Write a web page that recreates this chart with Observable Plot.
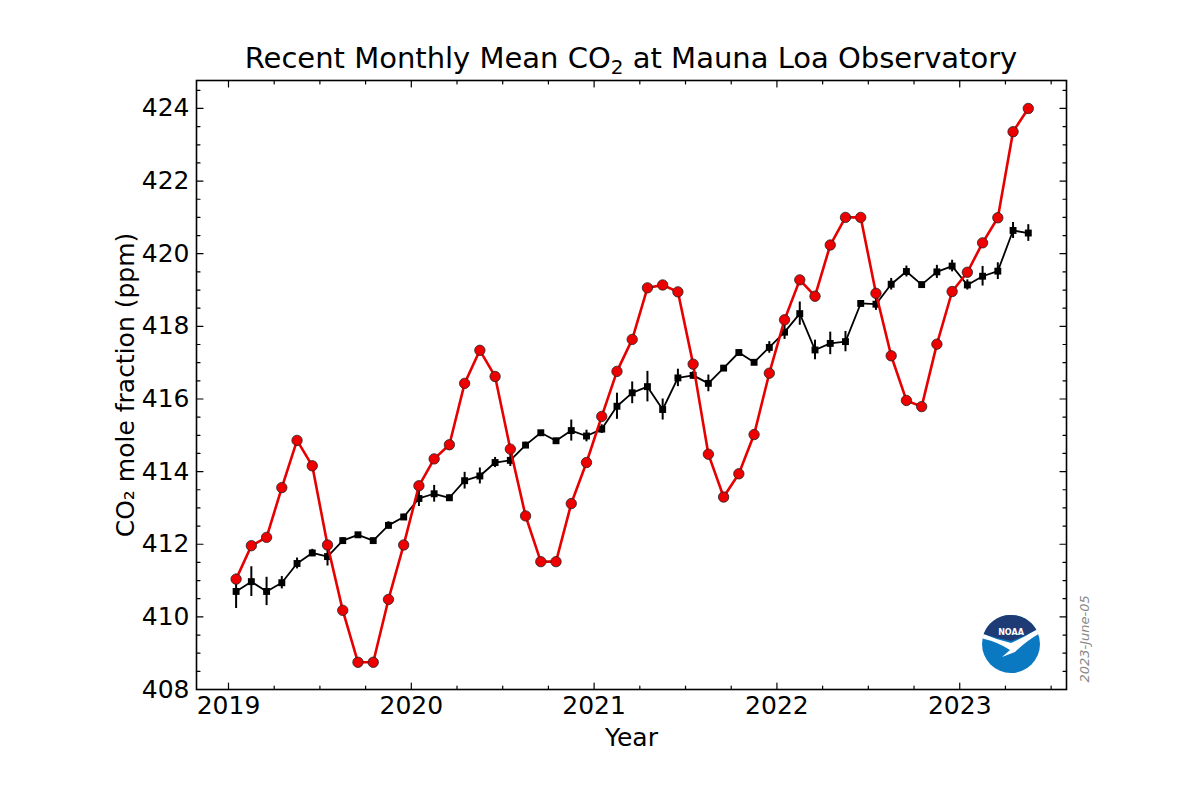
<!DOCTYPE html>
<html>
<head>
<meta charset="utf-8">
<script src="https://cdn.jsdelivr.net/npm/d3@7"></script>
<script src="https://cdn.jsdelivr.net/npm/@observablehq/plot@0.6"></script>
<style>
  html, body { margin: 0; padding: 0; background: #fff; }
  #wrap { width: 1197px; height: 800px; position: relative; font-family: "DejaVu Sans", sans-serif; }
  #title { height: 78px; box-sizing: border-box; padding-top: 44px; line-height: 29px; font-size: 29px;
           margin-left: 196px; width: 870px; text-align: center; color: #000; white-space: nowrap; }
  #title sub { font-size: 20px; line-height: 0; vertical-align: -6px; }
  svg { display: block; }
</style>
</head>
<body>
<div id="wrap">
  <div id="title">Recent Monthly Mean CO<sub>2</sub> at Mauna Loa Observatory</div>
  <div id="chart"></div>
</div>
<script>
// Monthly values, January 2019 through May 2023
const startYear = 2019;
const monthlyMean = [
  411.04, 411.96, 412.19, 413.56, 414.86, 414.16, 411.98, 410.18, 408.75, 408.75, 410.48, 411.98,
  413.61, 414.35, 414.74, 416.43, 417.34, 416.62, 414.62, 412.78, 411.52, 411.52, 413.12, 414.25,
  415.52, 416.76, 417.64, 419.06, 419.14, 418.95, 416.96, 414.48, 413.30, 413.94, 415.02, 416.71,
  418.18, 419.28, 418.83, 420.24, 421.00, 421.00, 418.91, 417.19, 415.96, 415.79, 417.51, 418.96,
  419.49, 420.30, 420.99, 423.36, 424.00
];
const deseasonalized = [
  410.70, 410.97, 410.70, 410.94, 411.47, 411.76, 411.66, 412.10, 412.26, 412.10, 412.52, 412.75,
  413.26, 413.39, 413.28, 413.75, 413.88, 414.25, 414.31, 414.73, 415.07, 414.85, 415.13, 414.98,
  415.17, 415.80, 416.17, 416.34, 415.71, 416.58, 416.65, 416.43, 416.85, 417.28, 417.01, 417.42,
  417.84, 418.35, 417.35, 417.53, 417.58, 418.63, 418.61, 419.16, 419.51, 419.15, 419.50, 419.66,
  419.14, 419.38, 419.52, 420.64, 420.57
];
const uncertainty = [
  0.47, 0.41, 0.39, 0.17, 0.15, 0.10, 0.26, 0.08, 0.05, 0.05, 0.10, 0.08,
  0.22, 0.23, 0.08, 0.23, 0.22, 0.14, 0.17, 0.08, 0.06, 0.06, 0.29, 0.16,
  0.12, 0.36, 0.30, 0.42, 0.29, 0.24, 0.10, 0.23, 0.06, 0.06, 0.06, 0.16,
  0.20, 0.32, 0.27, 0.31, 0.28, 0.06, 0.17, 0.16, 0.15, 0.06, 0.18, 0.16,
  0.14, 0.27, 0.23, 0.22, 0.23
];
const xTickLabels = [2019, 2020, 2021, 2022, 2023];
const xMinorTicks = [2019.25, 2019.5, 2019.75, 2020.25, 2020.5, 2020.75, 2021.25, 2021.5, 2021.75,
                     2022.25, 2022.5, 2022.75, 2023.25, 2023.5];
const yTickLabels = [408, 410, 412, 414, 416, 418, 420, 422, 424];
const yMinorTicks = [408.5, 409, 409.5, 410.5, 411, 411.5, 412.5, 413, 413.5, 414.5, 415, 415.5,
                     416.5, 417, 417.5, 418.5, 419, 419.5, 420.5, 421, 421.5, 422.5, 423, 423.5, 424.5];
const dateStamp = "2023-June-05";

const data = monthlyMean.map((v, i) => ({
  t: startYear + (i + 0.5) / 12,
  mean: v,
  trend: deseasonalized[i],
  err: uncertainty[i]
}));

const tickShape = {draw(ctx, l) { ctx.moveTo(0, 0); ctx.lineTo(0, -l); }};
const tk = (vals, ch, anchor, rotate, len) =>
  Plot.vector(vals, {[ch]: d => d, frameAnchor: anchor, rotate, length: len, anchor: "start",
                     shape: tickShape, stroke: "black", strokeWidth: 1.2});

const W = 1197, H = 722, mL = 196, mR = 131, mT = 2, mB = 111;

function noaaLogo() {
  const cx = W - mR - 55, cy = H - mB - 45;
  const g = d3.create("svg:g").attr("transform", `translate(${cx},${cy})`);
  g.append("circle").attr("r", 29).attr("fill", "#0a79c2");
  g.append("path").attr("fill", "#fff")
    .attr("d", "M-28.6,-5.5 Q-13,-2 -1,6 L-9,13 L4,8 Q14,-2 27.5,-10 L25.3,-14.2 Q12,-6 0,-1 Q-14,-4 -27.3,-10 Z");
  g.append("path").attr("fill", "#1f3b75")
    .attr("d", "M-27.3,-10 A29,29 0 0 1 25.3,-14.2 Q12,-7 0,-3 Q-14,-5.5 -27.3,-10 Z");
  g.append("text").attr("y", -12).attr("text-anchor", "middle").attr("dominant-baseline", "middle")
    .attr("fill", "#fff").attr("font-size", 8).attr("font-weight", "bold")
    .attr("font-family", "DejaVu Sans").text("NOAA");
  return g.node();
}

const chart = Plot.plot({
  width: W, height: H,
  marginLeft: mL, marginRight: mR, marginTop: mT, marginBottom: mB,
  x: {domain: [2018.825, 2023.584]},
  y: {domain: [408, 424.77]},
  style: {fontFamily: "DejaVu Sans", fontSize: "25px", background: "white", color: "black", overflow: "visible"},
  marks: [
    Plot.axisX(xTickLabels, {tickSize: 0, tickPadding: 7, fontSize: 25, label: null, tickFormat: d => String(d)}),
    Plot.axisY(yTickLabels, {tickSize: 0, tickPadding: 7, fontSize: 25, label: null, tickFormat: d => String(d)}),
    tk(xTickLabels, "x", "bottom", 0, 6.5), tk(xMinorTicks, "x", "bottom", 0, 3.5),
    tk(xTickLabels, "x", "top", 180, 6.5), tk(xMinorTicks, "x", "top", 180, 3.5),
    tk(yTickLabels, "y", "left", 90, 6.5), tk(yMinorTicks, "y", "left", 90, 3.5),
    tk(yTickLabels, "y", "right", -90, 6.5), tk(yMinorTicks, "y", "right", -90, 3.5),
    Plot.text(["CO₂ mole fraction (ppm)"], {text: d => d, frameAnchor: "left", dx: -71, rotate: -90,
                                            textAnchor: "middle", lineAnchor: "middle", fontSize: 25}),
    Plot.text(["Year"], {text: d => d, frameAnchor: "bottom", dy: 48, textAnchor: "middle", lineAnchor: "middle", fontSize: 25}),
    Plot.text([dateStamp], {text: d => d, frameAnchor: "bottom-right", dx: 18, dy: -7, rotate: -90,
                            textAnchor: "start", lineAnchor: "middle", fill: "#888", fontSize: 13, fontStyle: "italic"}),
    noaaLogo,
    // de-seasonalized trend with uncertainty bars
    Plot.ruleX(data, {x: "t", y1: d => d.trend - d.err, y2: d => d.trend + d.err, stroke: "black", strokeWidth: 2}),
    Plot.line(data, {x: "t", y: "trend", stroke: "black", strokeWidth: 1.8}),
    Plot.dot(data, {x: "t", y: "trend", symbol: "square", r: 3.9, fill: "black"}),
    // monthly mean
    Plot.line(data, {x: "t", y: "mean", stroke: "#e60000", strokeWidth: 2.6}),
    Plot.dot(data, {x: "t", y: "mean", r: 5.2, fill: "#ee0000", stroke: "#222", strokeWidth: 0.8}),
    Plot.frame({stroke: "black", strokeWidth: 1.6})
  ]
});
document.getElementById("chart").appendChild(chart);
</script>
</body>
</html>
